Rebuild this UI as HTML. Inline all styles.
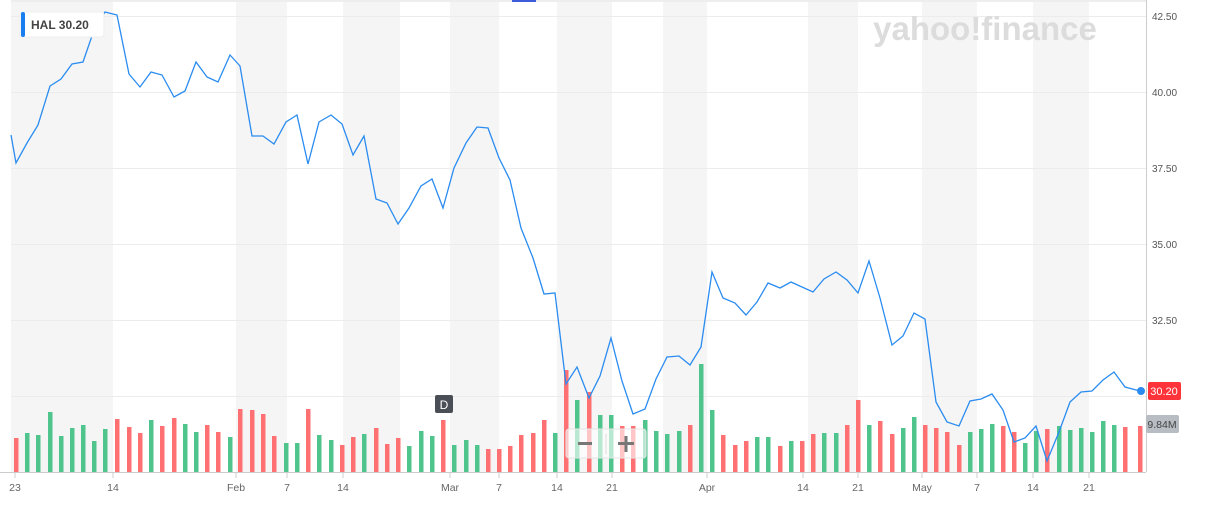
<!DOCTYPE html>
<html><head><meta charset="utf-8"><style>
body{margin:0;background:#fff;width:1208px;height:510px;overflow:hidden;font-family:"Liberation Sans",sans-serif;}
</style></head><body>
<svg id="s" width="1208" height="510" xmlns="http://www.w3.org/2000/svg" font-family="Liberation Sans, sans-serif">
<g id="bands" fill="#f5f5f5"></g>
<g stroke="#ececec" stroke-width="1">
<line x1="11" y1="16.5" x2="1146" y2="16.5"/><line x1="11" y1="92.5" x2="1146" y2="92.5"/>
<line x1="11" y1="168.5" x2="1146" y2="168.5"/><line x1="11" y1="244.5" x2="1146" y2="244.5"/>
<line x1="11" y1="320.5" x2="1146" y2="320.5"/><line x1="11" y1="396.5" x2="1146" y2="396.5"/>
</g>
<line x1="11" y1="1" x2="1146" y2="1" stroke="#ddd"/>
<rect x="512" y="0" width="24" height="2" fill="#3b5bdb"/>
<text x="985" y="40" font-size="33" font-weight="bold" fill="#dcdcdc" text-anchor="middle">yahoo!finance</text>
<g id="vol"></g>
<polyline id="pl" fill="none" stroke="#2a8cf0" stroke-width="1.3"/>
<line x1="1146.5" y1="0" x2="1146.5" y2="472" stroke="#ccc"/>
<line x1="0" y1="472.5" x2="1146" y2="472.5" stroke="#ccc"/>
<g font-size="10" fill="#555">
<text x="1152" y="20">42.50</text><text x="1152" y="96">40.00</text><text x="1152" y="172">37.50</text>
<text x="1152" y="248">35.00</text><text x="1152" y="324">32.50</text>
</g>
<g id="xt" font-size="10.5" fill="#666" text-anchor="middle"></g>
<rect x="1148" y="382" width="33" height="18" rx="2" fill="#ff333a"/>
<text x="1164" y="395" font-size="11" fill="#fff" text-anchor="middle">30.20</text>
<circle cx="1141" cy="391" r="4" fill="#2a8cf0"/>
<rect x="1146" y="415" width="33" height="18" rx="2" fill="#b8bcc3"/>
<text x="1162" y="428" font-size="10.5" fill="#444" text-anchor="middle">9.84M</text>
<rect x="435" y="395" width="18" height="18" rx="2" fill="#4a4f57"/>
<text x="444" y="409" font-size="12" fill="#fff" text-anchor="middle">D</text>
<rect x="566" y="429" width="80" height="29" rx="3" fill="#fff" fill-opacity="0.6" stroke="#e5e5e5"/>
<rect x="578" y="442" width="14" height="3" fill="#777"/>
<rect x="618" y="442" width="16" height="3" fill="#777"/><rect x="624.5" y="436" width="3" height="16" fill="#777"/>
<line x1="606" y1="434" x2="606" y2="454" stroke="#ddd"/>
<rect x="20" y="12" width="84" height="25" rx="3" fill="#fff" stroke="#eee"/>
<rect x="21" y="12" width="4" height="25" rx="2" fill="#1a7ef0"/>
<text x="31" y="29" font-size="12" font-weight="bold" fill="#444">HAL  30.20</text>
</svg>
<script>
var NS="http://www.w3.org/2000/svg";
function el(p,t,a,txt){var e=document.createElementNS(NS,t);for(var k in a)e.setAttribute(k,a[k]);if(txt)e.textContent=txt;document.getElementById(p).appendChild(e);}
[[11,113],[236,287],[343,400],[450,499],[557,612],[663,707],[808,858],[922,977],[1033,1089]].forEach(function(b){el('bands','rect',{x:b[0],y:2,width:b[1]-b[0],height:470});});
var P=[[11,135],[16,163],[27,143],[38,125],[50,86],[61,79],[72,64],[83,62],[94,30],[105,12],[117,15],[129,74],[140,87],[151,72],[162,75],[174,97],[185,91],[196,62],[207,77],[218,82],[230,55],[240,66],[252,136],[263,136],[274,144],[286,122],[297,115],[308,164],[319,122],[331,115],[342,124],[353,155],[364,136],[376,199],[387,203],[398,224],[409,208],[421,186],[432,179],[443,208],[454,168],[466,143],[477,127],[488,128],[499,158],[510,180],[521,228],[533,258],[544,294],[555,293],[566,384],[577,367],[589,398],[600,376],[611,338],[622,381],[633,414],[645,409],[656,379],[667,357],[679,356],[690,365],[701,347],[712,272],[723,298],[735,303],[746,315],[757,302],[768,283],[780,288],[791,282],[802,287],[813,292],[824,279],[836,272],[847,280],[858,293],[869,261],[880,298],[892,345],[903,336],[914,313],[925,319],[936,402],[947,422],[959,426],[970,401],[981,399],[992,394],[1003,410],[1014,442],[1025,438],[1036,426],[1047,461],[1059,432],[1070,402],[1081,392],[1092,391],[1103,380],[1114,372],[1125,387],[1140,391]];
document.getElementById('pl').setAttribute('points',P.map(function(p){return p.join(',')}).join(' '));
var V=[440,438,433,435,412,436,428,425,441,429,419,427,433,420,426,418,424,432,425,432,437,409,410,414,436,443,443,409,435,440,445,437,434,428,444,438,446,431,436,420,445,440,445,449,449,446,435,433,420,433,370,400,392,415,415,426,426,420,431,434,431,425,364,410,435,445,441,437,437,446,441,441,434,433,433,425,400,425,421,434,428,417,425,428,432,445,432,429,424,426,432,443,431,429,426,430,428,432,421,425,427,426,427];
for(var i=1;i<P.length;i++){var h=V[i]||430;var up=P[i][1]<P[i-1][1];
el('vol','rect',{x:P[i][0]-2,y:h,width:4.5,height:472-h,fill:up?'#4fc58d':'#ff7073'});}
[[15,'23'],[113,'14'],[236,'Feb'],[287,'7'],[343,'14'],[450,'Mar'],[499,'7'],[557,'14'],[612,'21'],[707,'Apr'],[803,'14'],[858,'21'],[922,'May'],[977,'7'],[1033,'14'],[1089,'21']].forEach(function(t){
el('xt','line',{x1:t[0],y1:473,x2:t[0],y2:478,stroke:'#ccc'});el('xt','text',{x:t[0],y:491},t[1]);});
</script>
</body></html>
